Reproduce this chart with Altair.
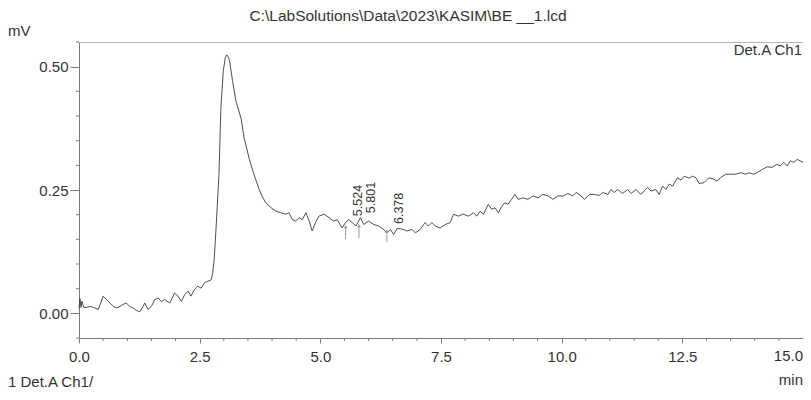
import altair as alt
import pandas as pd

# ---- chromatogram trace (min, mV) ----
times = [0.00, 0.02, 0.04, 0.06, 0.10, 0.15, 0.23, 0.30, 0.40, 0.50, 0.57, 0.64, 0.71, 0.78,
         0.85, 0.91, 0.98, 1.05, 1.12, 1.19, 1.26, 1.33, 1.36, 1.43, 1.50, 1.57, 1.64, 1.71,
         1.77, 1.88, 1.98, 2.05, 2.12, 2.19, 2.26, 2.32, 2.39, 2.46, 2.53, 2.60, 2.67, 2.74,
         2.77, 2.80, 2.84, 2.90, 2.94, 2.99, 3.03, 3.06, 3.09, 3.12, 3.18, 3.25, 3.36, 3.42,
         3.53, 3.63, 3.73, 3.80, 3.87, 3.98, 4.08, 4.18, 4.29, 4.35, 4.42, 4.49, 4.56, 4.63,
         4.70, 4.77, 4.83, 4.90, 4.97, 5.08, 5.18, 5.28, 5.35, 5.45, 5.52, 5.59, 5.66, 5.74,
         5.83, 5.90, 6.00, 6.11, 6.21, 6.31, 6.38, 6.45, 6.52, 6.59, 6.69, 6.79, 6.90, 6.97,
         7.07, 7.17, 7.24, 7.31, 7.38, 7.48, 7.59, 7.69, 7.76, 7.86, 7.96, 8.07, 8.17, 8.24,
         8.31, 8.38, 8.48, 8.55, 8.62, 8.69, 8.76, 8.82, 8.89, 8.96, 9.03, 9.10, 9.20, 9.30,
         9.41, 9.51, 9.61, 9.72, 9.82, 9.92, 10.03, 10.13, 10.23, 10.30, 10.40, 10.47, 10.58,
         10.68, 10.78, 10.85, 10.96, 11.02, 11.09, 11.16, 11.26, 11.37, 11.44, 11.54, 11.64,
         11.71, 11.78, 11.85, 11.95, 12.02, 12.09, 12.16, 12.23, 12.30, 12.40, 12.47, 12.54,
         12.64, 12.71, 12.78, 12.85, 12.95, 13.05, 13.15, 13.22, 13.29, 13.40, 13.50, 13.60,
         13.71, 13.81, 13.88, 13.98, 14.05, 14.16, 14.26, 14.36, 14.46, 14.53, 14.60, 14.67,
         14.74, 14.81, 14.88, 15.00]
signal = [0.010, 0.030, 0.012, 0.025, 0.012, 0.012, 0.014, 0.012, 0.008, 0.035, 0.028, 0.021,
          0.014, 0.011, 0.014, 0.018, 0.021, 0.014, 0.011, 0.006, 0.003, 0.014, 0.021, 0.008,
          0.014, 0.028, 0.031, 0.024, 0.028, 0.021, 0.041, 0.035, 0.024, 0.038, 0.045, 0.035,
          0.048, 0.055, 0.051, 0.062, 0.065, 0.068, 0.082, 0.108, 0.173, 0.282, 0.417, 0.492,
          0.518, 0.524, 0.520, 0.512, 0.472, 0.431, 0.394, 0.356, 0.312, 0.280, 0.252, 0.236,
          0.224, 0.214, 0.207, 0.204, 0.201, 0.204, 0.190, 0.187, 0.194, 0.190, 0.204, 0.187,
          0.167, 0.184, 0.197, 0.201, 0.194, 0.187, 0.190, 0.173, 0.184, 0.190, 0.184, 0.177,
          0.194, 0.180, 0.187, 0.180, 0.177, 0.170, 0.163, 0.170, 0.160, 0.172, 0.171, 0.167,
          0.170, 0.163, 0.170, 0.184, 0.177, 0.184, 0.177, 0.173, 0.180, 0.184, 0.201, 0.197,
          0.201, 0.197, 0.204, 0.197, 0.207, 0.201, 0.221, 0.211, 0.214, 0.204, 0.217, 0.224,
          0.221, 0.231, 0.241, 0.231, 0.234, 0.231, 0.238, 0.234, 0.241, 0.238, 0.231, 0.238,
          0.238, 0.243, 0.238, 0.245, 0.238, 0.231, 0.241, 0.241, 0.239, 0.245, 0.241, 0.251,
          0.245, 0.251, 0.243, 0.251, 0.243, 0.251, 0.241, 0.248, 0.255, 0.248, 0.251, 0.241,
          0.258, 0.251, 0.262, 0.258, 0.275, 0.270, 0.278, 0.274, 0.278, 0.275, 0.263, 0.265,
          0.275, 0.272, 0.268, 0.275, 0.282, 0.282, 0.282, 0.285, 0.282, 0.285, 0.282, 0.285,
          0.292, 0.297, 0.296, 0.302, 0.299, 0.306, 0.299, 0.309, 0.306, 0.312, 0.306]

# ---- integrated peaks ----
peak_times = [5.524, 5.801, 6.378]
peak_labels = ["5.524", "5.801", "6.378"]
label_base = [0.197, 0.203, 0.181]
arrow_tip = [0.176, 0.178, 0.166]
arrow_tail = [0.151, 0.153, 0.145]

# ---- axis ticks ----
x_major = [0.0, 2.5, 5.0, 7.5, 10.0, 12.5]
x_last = [15.0]
x_last_label = ["15.0"]
x_minor = [0.5, 1.0, 1.5, 2.0, 3.0, 3.5, 4.0, 4.5, 5.5, 6.0, 6.5, 7.0, 8.0, 8.5, 9.0, 9.5,
           10.5, 11.0, 11.5, 12.0, 13.0, 13.5, 14.0, 14.5]
y_major = [0.0, 0.25, 0.50]
y_minor = [-0.05, 0.05, 0.10, 0.15, 0.20, 0.30, 0.35, 0.40, 0.45, 0.55]

title_text = "C:\\LabSolutions\\Data\\2023\\KASIM\\BE __1.lcd"
channel_text = "Det.A Ch1"
footer_text = "1  Det.A Ch1/"

W, H = 724, 296
FONT = "Liberation Sans"
TXT = "#333333"
AX = "#7a7a7a"

xscale = alt.Scale(domain=[0, 15], nice=False, zero=False)
yscale = alt.Scale(domain=[-0.05, 0.55], nice=False, zero=False)

xaxis = alt.Axis(
    values=x_major + x_last, title=None, grid=False,
    labelExpr="datum.value > 14.99 ? '' : format(datum.value, '.1f')",
    tickSize=5, labelFlush=False, labelOverlap=False,
    labelFontSize=15, labelFont=FONT, labelColor=TXT, labelPadding=6,
    domainColor=AX, tickColor=AX,
)
yaxis = alt.Axis(
    values=y_major, title=None, grid=False, format=".2f",
    tickSize=9, labelFlush=False, labelOverlap=False,
    labelFontSize=15, labelFont=FONT, labelColor=TXT, labelPadding=2,
    domainColor=AX, tickColor=AX,
)

def X(field):
    return alt.X(field, type="quantitative", scale=xscale, axis=xaxis)

def Y(field):
    return alt.Y(field, type="quantitative", scale=yscale, axis=yaxis)

trace_df = pd.DataFrame({"t": times, "v": signal})
peaks_df = pd.DataFrame({"t": peak_times, "label": peak_labels, "base": label_base,
                         "tip": arrow_tip, "tail": arrow_tail})
xminor_df = pd.DataFrame({"t": x_minor})
yminor_df = pd.DataFrame({"v": y_minor})
xlast_df = pd.DataFrame({"t": x_last, "label": x_last_label})
one = pd.DataFrame({"k": [0]})

trace = alt.Chart(trace_df).mark_line(color="#3a3a3a", strokeWidth=0.9).encode(
    x=X("t"), y=Y("v"),
)

xminor = alt.Chart(xminor_df).mark_rule(color=AX, strokeWidth=1).encode(
    x=X("t"), y=alt.value(H), y2=alt.value(H + 3),
)
yminor = alt.Chart(yminor_df).mark_rule(color=AX, strokeWidth=1).encode(
    y=Y("v"), x=alt.value(-3), x2=alt.value(0),
)
xlast = alt.Chart(xlast_df).mark_text(align="right", baseline="top", fontSize=15,
                                      font=FONT, color=TXT).encode(
    x=X("t"), y=alt.value(H + 11), text="label:N",
)

arrows = alt.Chart(peaks_df).mark_rule(color="#8f9ca3", strokeWidth=1).encode(
    x=X("t"), y=Y("tail"), y2="tip:Q",
)
heads = alt.Chart(peaks_df).mark_point(shape="triangle-up", size=14, filled=True,
                                       color="#8f9ca3", opacity=1).encode(
    x=X("t"), y=Y("tip"),
)
labels = alt.Chart(peaks_df).mark_text(angle=270, align="left", baseline="middle", dy=12,
                                       fontSize=12.5, font=FONT, color=TXT).encode(
    x=X("t"), y=Y("base"), text="label:N",
)

def note(text, x, y, align, baseline="middle", size=15):
    return alt.Chart(one).mark_text(align=align, baseline=baseline, fontSize=size,
                                    font=FONT, color=TXT).encode(
        x=alt.value(x), y=alt.value(y), text=alt.value(text))

title = note(title_text, 329, -26, "center", size=15.5)
mv = note("mV", -71, -11, "left")
chan = note(channel_text, W - 1, 8, "right")
minute = note("min", W, 343, "right", baseline="alphabetic")
footer = note(footer_text, -71, 345, "left", baseline="alphabetic")

chart = alt.layer(trace, xminor, yminor, xlast, arrows, heads, labels,
                  title, mv, chan, minute, footer).properties(
    width=W, height=H,
    autosize=alt.AutoSizeParams(type="none"),
    padding={"left": 71, "top": 34, "right": 0, "bottom": 54},
    background="white",
).configure_view(stroke="#b5b5b5", strokeWidth=1)

chart.save("out.html", embed_options={"renderer": "svg", "actions": False})
